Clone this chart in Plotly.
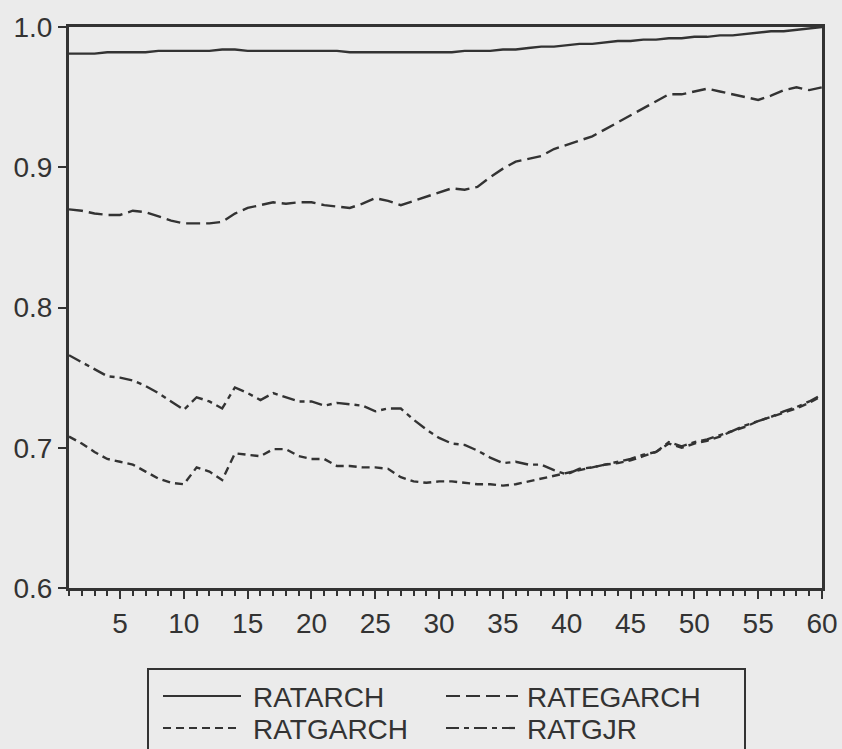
import plotly.graph_objects as go

x = list(range(1, 61))

ratarch = [0.981, 0.981, 0.981, 0.982, 0.982, 0.982, 0.982, 0.983, 0.983, 0.983,
           0.983, 0.983, 0.984, 0.984, 0.983, 0.983, 0.983, 0.983, 0.983, 0.983,
           0.983, 0.983, 0.982, 0.982, 0.982, 0.982, 0.982, 0.982, 0.982, 0.982,
           0.982, 0.983, 0.983, 0.983, 0.984, 0.984, 0.985, 0.986, 0.986, 0.987,
           0.988, 0.988, 0.989, 0.990, 0.990, 0.991, 0.991, 0.992, 0.992, 0.993,
           0.993, 0.994, 0.994, 0.995, 0.996, 0.997, 0.997, 0.998, 0.999, 1.000]

rategarch = [0.870, 0.869, 0.867, 0.866, 0.866, 0.869, 0.868, 0.865, 0.862, 0.860,
             0.860, 0.860, 0.861, 0.867, 0.871, 0.873, 0.875, 0.874, 0.875, 0.875,
             0.873, 0.872, 0.871, 0.874, 0.878, 0.876, 0.873, 0.876, 0.879, 0.882,
             0.885, 0.884, 0.886, 0.893, 0.899, 0.904, 0.906, 0.908, 0.913, 0.916,
             0.919, 0.922, 0.927, 0.932, 0.937, 0.942, 0.947, 0.952, 0.952, 0.954,
             0.956, 0.954, 0.952, 0.950, 0.948, 0.951, 0.955, 0.957, 0.955, 0.957]

ratgarch = [0.708, 0.703, 0.697, 0.692, 0.690, 0.688, 0.683, 0.678, 0.675, 0.674,
            0.686, 0.683, 0.677, 0.696, 0.695, 0.694, 0.699, 0.699, 0.694, 0.692,
            0.692, 0.687, 0.687, 0.686, 0.686, 0.685, 0.679, 0.676, 0.675, 0.676,
            0.676, 0.675, 0.674, 0.674, 0.673, 0.674, 0.676, 0.678, 0.680, 0.682,
            0.684, 0.686, 0.688, 0.689, 0.691, 0.694, 0.697, 0.703, 0.700, 0.703,
            0.705, 0.708, 0.712, 0.715, 0.719, 0.722, 0.725, 0.728, 0.732, 0.737]

ratgjr = [0.766, 0.761, 0.756, 0.751, 0.750, 0.748, 0.744, 0.739, 0.733, 0.727,
          0.736, 0.733, 0.728, 0.743, 0.739, 0.734, 0.739, 0.736, 0.733, 0.733,
          0.730, 0.732, 0.731, 0.730, 0.726, 0.728, 0.728, 0.720, 0.713, 0.707,
          0.703, 0.702, 0.698, 0.693, 0.689, 0.690, 0.688, 0.688, 0.684, 0.681,
          0.685, 0.686, 0.688, 0.690, 0.692, 0.695, 0.697, 0.704, 0.701, 0.704,
          0.706, 0.709, 0.712, 0.716, 0.719, 0.722, 0.726, 0.729, 0.733, 0.738]

names = ["RATARCH", "RATEGARCH", "RATGARCH", "RATGJR"]
dashes = ["solid", "14px,6px", "8px,5px", "13px,5px,5px,5px"]

INK = "#333333"
BG = "#ebebeb"
FONT = "Arial, Liberation Sans, sans-serif"

W, H = 842, 749
ML, MR, MT, MB = 69, 20, 27, 161
PW, PH = W - ML - MR, H - MT - MB


def px_x(p):
    return (p - ML) / PW


def px_y(p):
    return (H - MB - p) / PH


fig = go.Figure()
for name, ys, dash in zip(names, [ratarch, rategarch, ratgarch, ratgjr], dashes):
    fig.add_trace(go.Scatter(x=x, y=ys, mode="lines", name=name, showlegend=False,
                             line=dict(color=INK, width=2.4, dash=dash)))

# hand-built legend box (two columns x two rows, as in the original)
shapes = [dict(type="rect", xref="paper", yref="paper",
               x0=px_x(148), x1=px_x(745), y0=px_y(753), y1=px_y(669),
               line=dict(color=INK, width=2), fillcolor=BG, layer="above")]
annotations = []
col_line = [(163, 241), (446, 518)]
col_text = [252, 526]
row_y = [696, 728]
for i, (name, dash) in enumerate(zip(names, dashes)):
    r, c = divmod(i, 2)
    shapes.append(dict(type="line", xref="paper", yref="paper",
                       x0=px_x(col_line[c][0]), x1=px_x(col_line[c][1]),
                       y0=px_y(row_y[r]), y1=px_y(row_y[r]),
                       line=dict(color=INK, width=2.2, dash=dash), layer="above"))
    annotations.append(dict(xref="paper", yref="paper", x=px_x(col_text[c]), y=px_y(row_y[r] + 1),
                            text=name, showarrow=False, xanchor="left", yanchor="middle",
                            borderpad=0,
                            font=dict(family=FONT, size=28, color=INK)))

fig.update_layout(
    width=W, height=H,
    margin=dict(l=ML, r=MR, t=MT, b=MB),
    paper_bgcolor=BG, plot_bgcolor=BG,
    font=dict(family=FONT, color=INK, size=28),
    showlegend=False,
    shapes=shapes, annotations=annotations,
)
fig.update_xaxes(range=[1, 60], tickmode="linear", tick0=0, dtick=5,
                 ticks="outside", ticklen=8, tickwidth=2, tickcolor=INK,
                 minor=dict(dtick=1, tick0=0, ticks="outside", ticklen=5, tickwidth=2, tickcolor=INK),
                 showline=True, linecolor=INK, linewidth=3, mirror=True,
                 showgrid=False, zeroline=False, automargin=False,
                 tickfont=dict(size=28))
fig.update_yaxes(range=[0.6, 1.0], tickmode="linear", tick0=0.6, dtick=0.1, tickformat=".1f",
                 ticks="outside", ticklen=8, tickwidth=2, tickcolor=INK,
                 showline=True, linecolor=INK, linewidth=3, mirror=True,
                 showgrid=False, zeroline=False, automargin=False,
                 tickfont=dict(size=28))

fig.write_html("out.html")
